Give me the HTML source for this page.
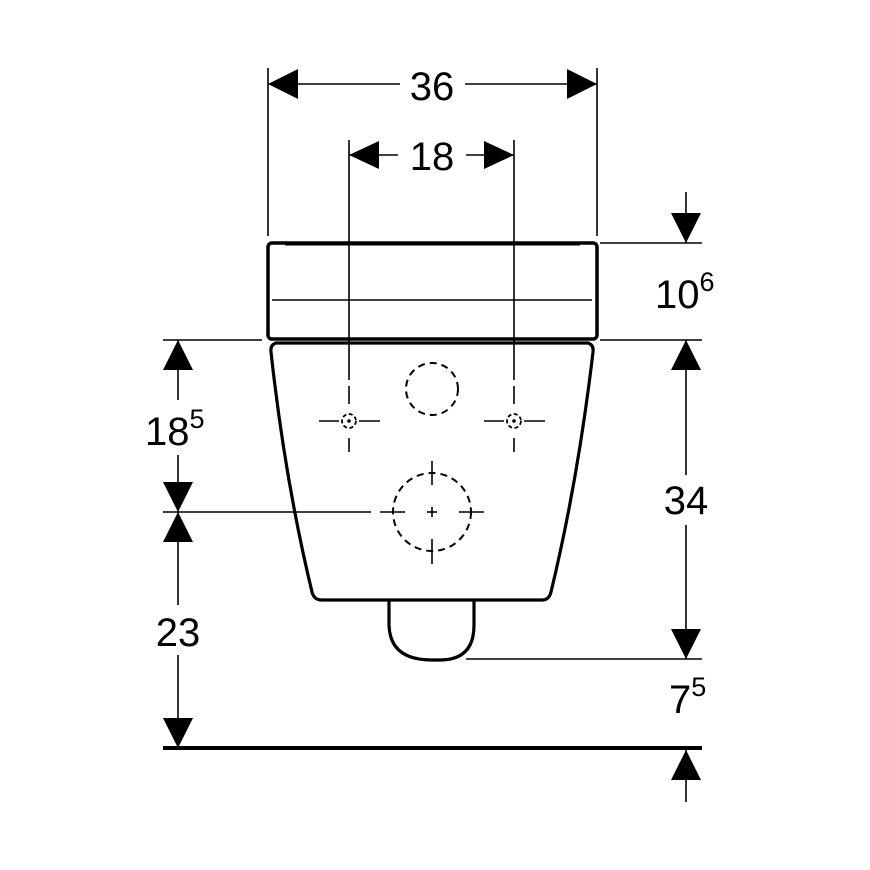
<!DOCTYPE html>
<html><head><meta charset="utf-8"><style>html,body{margin:0;padding:0;background:#fff}svg{display:block}</style></head>
<body>
<svg width="870" height="870" viewBox="0 0 870 870" xmlns="http://www.w3.org/2000/svg" font-family="Liberation Sans, Arial, sans-serif" fill="none" stroke="#000">
<g stroke-width="1.6">
<line x1="268" y1="68" x2="268" y2="236"/>
<line x1="597" y1="68" x2="597" y2="236"/>
<line x1="349" y1="140" x2="349" y2="380"/>
<line x1="514" y1="140" x2="514" y2="380"/>
<line x1="600" y1="243" x2="702" y2="243"/>
<line x1="600" y1="340" x2="702" y2="340"/>
<line x1="163" y1="340" x2="262" y2="340"/>
<line x1="466" y1="659" x2="702" y2="659"/>
<line x1="268" y1="84" x2="400" y2="84"/>
<line x1="465" y1="84" x2="597" y2="84"/>
<line x1="349" y1="155" x2="398" y2="155"/>
<line x1="466" y1="155" x2="514" y2="155"/>
<line x1="686" y1="192" x2="686" y2="243"/>
<line x1="686" y1="340" x2="686" y2="475"/>
<line x1="686" y1="525" x2="686" y2="659"/>
<line x1="686" y1="750" x2="686" y2="802"/>
<line x1="178" y1="340" x2="178" y2="400"/>
<line x1="178" y1="455" x2="178" y2="512"/>
<line x1="178" y1="512" x2="178" y2="605"/>
<line x1="178" y1="655" x2="178" y2="748"/>
</g>
<g fill="#000" stroke="none">
<polygon points="268,84 298,69 298,99"/>
<polygon points="597,84 567,69 567,99"/>
<polygon points="349,155 379,141 379,169"/>
<polygon points="514,155 484,141 484,169"/>
<polygon points="686,243 671,213 701,213"/>
<polygon points="686,340 671,370 701,370"/>
<polygon points="686,659 671,629 701,629"/>
<polygon points="686,750 671,780 701,780"/>
<polygon points="178,340 163,370 193,370"/>
<polygon points="178,512 163,482 193,482"/>
<polygon points="178,512 163,542 193,542"/>
<polygon points="178,748 163,718 193,718"/>
</g>
<line x1="163" y1="748" x2="702" y2="748" stroke-width="4"/>
<rect x="268" y="243" width="329" height="96" rx="4" stroke-width="3.5"/>
<line x1="272" y1="300" x2="592" y2="300" stroke-width="1.6"/>
<line x1="285" y1="244" x2="580" y2="244" stroke-width="3"/>
<line x1="285" y1="339" x2="580" y2="339" stroke-width="3"/>
<path d="M276,343 Q270,345 271,352 Q285,480 312,592 Q314,600 322,600 L542,600 Q549,600 551,592 Q578,480 593,352 Q594,345 588,343 Z" stroke-width="3.2" fill="#fff"/>
<line x1="163" y1="512" x2="371" y2="512" stroke-width="1.6"/>
<path d="M389,601 L389,625 Q390,660 432,660 L440,660 Q474,660 474,625 L474,601" stroke-width="3.2"/>
<g stroke-width="1.6">
<line x1="349" y1="340" x2="349" y2="380"/>
<line x1="514" y1="340" x2="514" y2="380"/>
<line x1="349" y1="386" x2="349" y2="404"/>
<line x1="514" y1="386" x2="514" y2="404"/>
<line x1="349" y1="438" x2="349" y2="452"/>
<line x1="514" y1="438" x2="514" y2="452"/>
</g>
<circle cx="432" cy="389" r="26" stroke-width="2" stroke-dasharray="7,5"/>
<circle cx="432" cy="512" r="39" stroke-width="2" stroke-dasharray="7,5"/>
<g stroke-width="1.6">
<line x1="432" y1="461" x2="432" y2="485"/>
<line x1="432" y1="539" x2="432" y2="564"/>
<line x1="380" y1="512" x2="405" y2="512"/>
<line x1="459" y1="512" x2="484" y2="512"/>
<line x1="427" y1="512" x2="437" y2="512"/>
<line x1="432" y1="507" x2="432" y2="517"/>
<line x1="319" y1="421" x2="339" y2="421"/>
<line x1="359" y1="421" x2="380" y2="421"/>
<line x1="484" y1="421" x2="504" y2="421"/>
<line x1="524" y1="421" x2="545" y2="421"/>
</g>
<circle cx="349" cy="421" r="7" stroke-width="1.8" stroke-dasharray="4,2.5"/>
<circle cx="514" cy="421" r="7" stroke-width="1.8" stroke-dasharray="4,2.5"/>
<circle cx="349" cy="421" r="1.8" fill="#000" stroke="none"/>
<circle cx="514" cy="421" r="1.8" fill="#000" stroke="none"/>
<g fill="#000" stroke="none" font-size="40">
<text x="432" y="100" text-anchor="middle">36</text>
<text x="432" y="170" text-anchor="middle">18</text>
<text x="655" y="308">10<tspan font-size="27" dy="-17">6</tspan></text>
<text x="686" y="514" text-anchor="middle">34</text>
<text x="669" y="713">7<tspan font-size="27" dy="-17">5</tspan></text>
<text x="145" y="445">18<tspan font-size="27" dy="-17">5</tspan></text>
<text x="178" y="646" text-anchor="middle">23</text>
</g>
</svg>
</body></html>
